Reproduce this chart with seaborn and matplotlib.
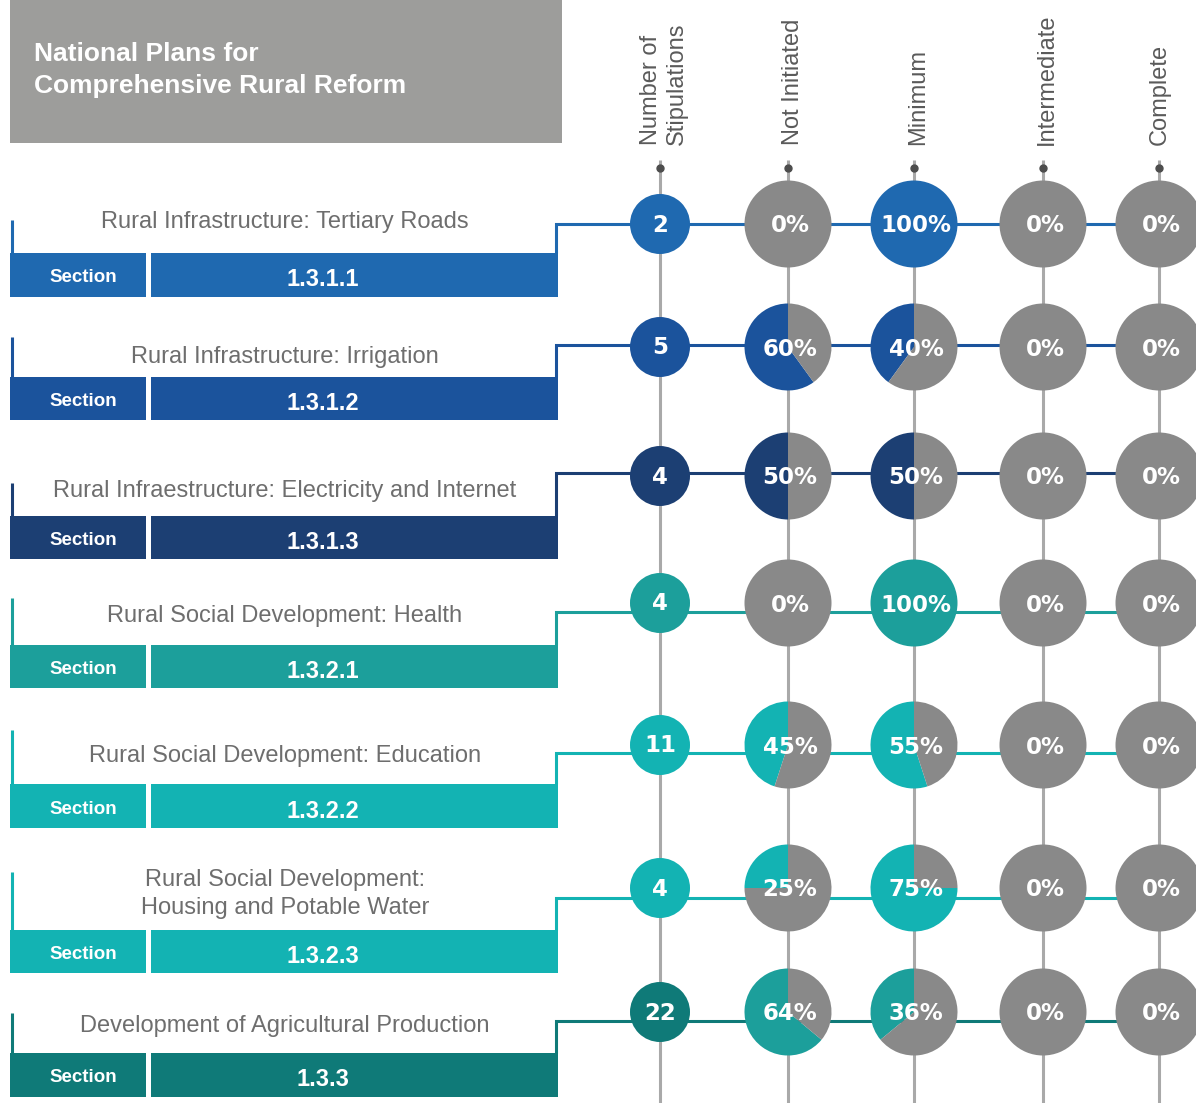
import matplotlib
matplotlib.use("Agg")
import matplotlib.pyplot as plt
import seaborn as sns
from matplotlib.patches import Rectangle, Circle

sns.set_theme(style="white")
plt.rcParams['font.family'] = ['Liberation Sans', 'DejaVu Sans']

# ---------------- data ----------------
title_lines = ["National Plans for", "Comprehensive Rural Reform"]
columns = ["Number of\nStipulations", "Not Initiated", "Minimum", "Intermediate", "Complete"]
titles = [
    "Rural Infrastructure: Tertiary Roads",
    "Rural Infrastructure: Irrigation",
    "Rural Infraestructure: Electricity and Internet",
    "Rural Social Development: Health",
    "Rural Social Development: Education",
    "Rural Social Development:\nHousing and Potable Water",
    "Development of Agricultural Production",
]
sections = ["1.3.1.1", "1.3.1.2", "1.3.1.3", "1.3.2.1", "1.3.2.2", "1.3.2.3", "1.3.3"]
stipulations = [2, 5, 4, 4, 11, 4, 22]
not_initiated = [0, 60, 50, 0, 45, 25, 64]
minimum = [100, 40, 50, 100, 55, 75, 36]
intermediate = [0, 0, 0, 0, 0, 0, 0]
complete = [0, 0, 0, 0, 0, 0, 0]

row_colors = ["#1f69b0", "#1b539c", "#1c3f73", "#1c9f9b", "#13b3b3", "#13b3b3", "#0f7a78"]
pie_colors = ["#1f69b0", "#1b539c", "#1c3f73", "#1c9f9b", "#13b3b3", "#13b3b3", "#1c9f9b"]
GRAY = "#898989"
LINE_GRAY = "#a9a9a9"

# ---------------- layout (pixels) ----------------
W, H = 1196, 1103
col_x = [660, 788, 914, 1043, 1159]
header_x = [664, 793, 918, 1047, 1160]
circle_y = [224, 347, 476, 603, 745, 888, 1012]
conn_y = [224, 345, 473, 612, 753, 898, 1021]
box_top = [253, 377, 516, 645, 784, 930, 1053]
box_bot = [297, 420, 559, 688, 828, 973, 1097]
bracket_top = [220, 337, 483, 598, 730, 872, 1013]
label_y = [222, 357, 491, 616, 756, 894, 1026]

fig = plt.figure(figsize=(W / 100, H / 100), dpi=100)
ax = fig.add_axes([0, 0, 1, 1])
ax.set_axis_off()

# title box
ax.add_patch(Rectangle((10, 0), 552, 143, facecolor="#9d9d9b", edgecolor="none", zorder=1))
ax.text(34, 54, title_lines[0], color="white", fontsize=19, fontweight="bold", va="center", ha="left")
ax.text(34, 86, title_lines[1], color="white", fontsize=19, fontweight="bold", va="center", ha="left")

# column headers, dots and vertical guides
for hx, cx, name in zip(header_x, col_x, columns):
    ax.text(hx, 145, name, rotation=90, ha="center", va="bottom", multialignment="left",
            fontsize=17, color="#5a5a5a", linespacing=1.2)
    ax.plot([cx, cx], [160, H], color=LINE_GRAY, lw=2.2, zorder=1, solid_capstyle="butt")
    ax.plot([cx], [168], marker="o", ms=5, color="#4d4d4d", zorder=2)

# rows
value_cols = [not_initiated, minimum, intermediate, complete]
for i in range(len(titles)):
    c = row_colors[i]
    # connector
    ax.plot([556, 556, W + 5], [box_top[i], conn_y[i], conn_y[i]], color=c, lw=2.2,
            zorder=2, solid_joinstyle="miter")
    # left bracket
    ax.plot([11.5, 11.5], [bracket_top[i], box_top[i]], color=c, lw=2.2, zorder=2,
            solid_capstyle="butt")
    # boxes
    ax.add_patch(Rectangle((10, box_top[i]), 136, box_bot[i] - box_top[i], facecolor=c,
                           edgecolor="none", zorder=2))
    ax.add_patch(Rectangle((151, box_top[i]), 407, box_bot[i] - box_top[i], facecolor=c,
                           edgecolor="none", zorder=2))
    mid = (box_top[i] + box_bot[i]) / 2
    ax.text(83, mid + 3, "Section", color="white", fontsize=13.5, fontweight="bold",
            ha="center", va="center", zorder=3)
    ax.text(323, mid + 5, sections[i], color="white", fontsize=17, fontweight="bold",
            ha="center", va="center", zorder=3)
    ax.text(285, label_y[i], titles[i], color="#6e6e6e", fontsize=17, ha="center",
            va="center", linespacing=1.35, zorder=3)

    # stipulation circle
    ax.add_patch(Circle((col_x[0], circle_y[i]), 30, facecolor=c, edgecolor="none", zorder=3))
    ax.text(col_x[0], circle_y[i] + 1, str(stipulations[i]), color="white", fontsize=16.5,
            fontweight="bold", family="DejaVu Sans", ha="center", va="center", zorder=4)

    # pies
    for j, vals in enumerate(value_cols):
        p = vals[i]
        cx = col_x[j + 1]
        wedges, _ = ax.pie([p, 100 - p], colors=[pie_colors[i], GRAY], center=(cx, circle_y[i]),
                           radius=43.5, startangle=-90, counterclock=False, frame=True,
                           wedgeprops=dict(linewidth=0, edgecolor="none"))
        for w in wedges:
            w.set_zorder(3)
        ax.text(cx + 2, circle_y[i] + 2, f"{p}%", color="white", fontsize=16.5,
                fontweight="bold", family="DejaVu Sans", ha="center", va="center", zorder=4)

ax.set_xlim(0, W)
ax.set_ylim(H, 0)
ax.set_aspect("equal")
ax.set_axis_off()
fig.savefig("out.png", dpi=100, facecolor="white")
